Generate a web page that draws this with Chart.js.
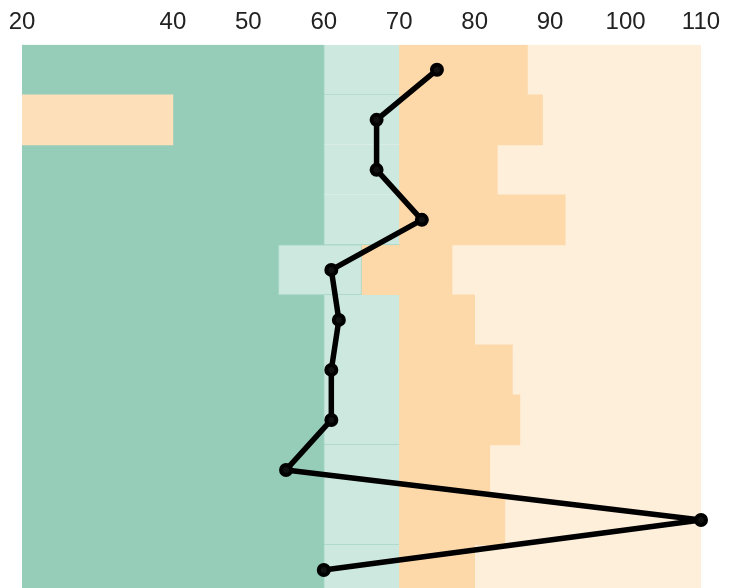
<!DOCTYPE html>
<html>
<head>
<meta charset="utf-8">
<script src="https://cdn.jsdelivr.net/npm/chart.js@4"></script>
<style>
  html, body { margin: 0; padding: 0; overflow: hidden; background: #fff; }
  #wrap { width: 742px; height: 604px; }
</style>
</head>
<body>
<div id="wrap"><canvas id="chart"></canvas></div>
<script>
// rows, top to bottom
const rows = ['r1', 'r2', 'r3', 'r4', 'r5', 'r6', 'r7', 'r8', 'r9', 'r10', 'r11'];

// band edges per row
const bandStart = [20, 40, 20, 20, 20, 20, 20, 20, 20, 20, 20];
const poorEnd   = [60, 60, 60, 60, 54, 60, 60, 60, 60, 60, 60];
const fairEnd   = [70, 70, 70, 70, 65, 70, 70, 70, 70, 70, 70];
const goodEnd   = [87, 89, 83, 92, 77, 80, 85, 86, 82, 84, 80];
const bandEnd   = [110, 110, 110, 110, 110, 110, 110, 110, 110, 110, 110];

// odd short bar in row 2
const extraStart = [null, 20, null, null, null, null, null, null, null, null, null];
const extraEnd   = [null, 40, null, null, null, null, null, null, null, null, null];

// the black line
const measure = [75, 67, 67, 73, 61, 62, 61, 61, 55, 110, 60];

const xTicks = [20, 40, 50, 60, 70, 80, 90, 100, 110];

function span(a, b) {
    return a.map((v, i) => (v == null ? null : [v, b[i]]));
}

// outline on the light green blocks
const fairBorders = rows.map((r, i) => {
    if (i === 4) return { top: 1, bottom: 1, left: 1, right: 1 };
    const bottom = (i === 0 || i === 3 || i === 7 || i === 9) ? 1 : 0;
    return { top: 0, bottom: bottom, left: 1, right: 0 };
});

const barBase = { type: 'bar', indexAxis: 'y', grouped: false, barPercentage: 1, categoryPercentage: 1, borderSkipped: false };

const ctx = document.getElementById('chart').getContext('2d');
new Chart(ctx, {
    data: {
        labels: rows,
        datasets: [
            {
                type: 'line', indexAxis: 'y', label: 'measure', data: measure, order: 0,
                borderColor: '#000', borderWidth: 5.5, tension: 0, clip: false,
                borderJoinStyle: 'round', borderCapStyle: 'round',
                pointRadius: 5, pointBorderWidth: 4, pointBackgroundColor: '#111', pointBorderColor: '#000'
            },
            { ...barBase, label: 'extra', data: span(extraStart, extraEnd), backgroundColor: '#fddfba', order: 1 },
            { ...barBase, label: 'fair', data: span(poorEnd, fairEnd), backgroundColor: '#cde8df', borderColor: '#a6d7c6', borderWidth: fairBorders, order: 2 },
            { ...barBase, label: 'poor', data: span(bandStart, poorEnd), backgroundColor: '#95cdb9', order: 3 },
            { ...barBase, label: 'good', data: span(fairEnd, goodEnd), backgroundColor: '#fdd9aa', order: 4 },
            { ...barBase, label: 'top', data: span(goodEnd, bandEnd), backgroundColor: '#feefdb', order: 5 }
        ]
    },
    options: {
        indexAxis: 'y',
        responsive: true,
        maintainAspectRatio: false,
        animation: false,
        layout: { padding: { top: 0, left: 22, right: 41, bottom: 0 } },
        plugins: { legend: { display: false }, tooltip: { enabled: false } },
        scales: {
            x: {
                type: 'linear',
                position: 'top',
                min: 20,
                max: 110,
                afterBuildTicks: scale => { scale.ticks = xTicks.map(v => ({ value: v })); },
                grid: { display: false, drawTicks: false },
                border: { display: false },
                ticks: {
                    autoSkip: false,
                    maxRotation: 0,
                    padding: 8,
                    color: '#222',
                    font: { family: 'Liberation Sans', size: 24 }
                }
            },
            y: {
                type: 'category',
                display: false,
                offset: true,
                grid: { display: false }
            }
        }
    }
});
</script>
</body>
</html>
